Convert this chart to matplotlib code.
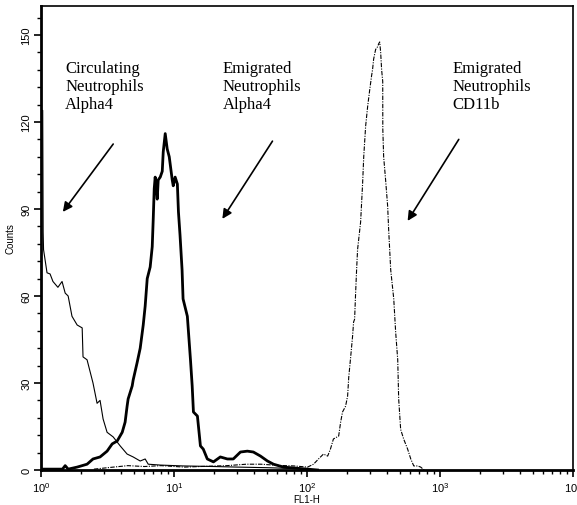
import matplotlib
matplotlib.use("Agg")
import matplotlib.pyplot as plt
from matplotlib.ticker import MultipleLocator, LogLocator, NullFormatter

# FL1-H channel values and counts
circ_x = [1.025, 1.03, 1.038, 1.045, 1.11, 1.17, 1.23, 1.34, 1.44, 1.52, 1.60, 1.71, 1.87,
          2.04, 2.07, 2.22, 2.46, 2.64, 2.78, 2.93, 3.14, 3.49, 3.94, 4.44, 4.93, 5.57,
          6.07, 6.40, 7.88, 11.7, 20.0, 30.0, 50.0, 80.0, 100.0]
circ_y = [124, 124, 82, 76, 68, 67.6, 65, 63, 65, 61, 60, 53, 50,
          49, 39, 38, 30, 23, 24, 17.6, 13, 11.4, 8.3, 5.5, 4.5, 3.1,
          3.8, 2.0, 1.7, 1.4, 1.2, 1.0, 0.8, 0.5, 0.3]

emig_a4_x = [1.0, 1.45, 1.52, 1.6, 1.87, 2.22, 2.46, 2.78, 3.14, 3.43, 3.74, 4.08, 4.29,
             4.44, 4.52, 4.85, 4.93, 5.28, 5.57, 5.87, 6.07, 6.29, 6.62, 6.86, 6.98,
             7.10, 7.22, 7.48, 7.61, 7.88, 8.16, 8.30, 8.59, 8.89, 9.21, 9.70, 9.87,
             10.2, 10.6, 10.8, 11.1, 11.5, 11.7, 12.6, 13.3, 13.7, 14.0, 15.0, 15.8,
             16.6, 17.8, 19.8, 22.3, 25.2, 27.9, 31.6, 35.6, 39.5, 44.7, 50.4, 56.0,
             66.5, 89.3, 120.0]
emig_a4_y = [0.3, 0.3, 1.5, 0.3, 1.0, 2.0, 3.8, 4.5, 6.5, 9.0, 10.0, 13.0, 16.5,
             22.0, 24.5, 29.0, 31.0, 37.0, 42.0, 50.0, 56.5, 66.0, 70.0, 77.0, 86.5,
             97.0, 101.0, 93.4, 100.0, 101.0, 103.0, 109.7, 116.0, 110.7, 108.0, 100.0, 98.0,
             101.0, 98.6, 89.0, 81.0, 69.0, 59.0, 53.0, 38.0, 29.0, 20.0, 18.6, 8.3,
             7.2, 3.8, 2.8, 4.5, 3.8, 3.8, 6.2, 6.5, 6.2, 4.8, 3.1, 2.0,
             1.0, 0.5, 0.0]

emig_cd_x = [2.5, 3.5, 4.5, 6.0, 8.0, 12.0, 18.0, 25.0, 35.0, 45.0, 60.0, 80.0, 100.9,
             112, 122, 133, 143, 150, 158, 173, 179, 185, 195, 202, 206, 213, 220, 224,
             228, 232, 236, 240, 253, 262, 267, 276, 286, 296, 306, 311, 317, 328, 340,
             346, 352, 358, 364, 371, 371.5, 377, 390, 404, 411, 426, 449, 464, 481, 489,
             506, 533, 571, 603, 635, 680, 716, 760]
emig_cd_y = [0.3, 1.0, 1.5, 1.2, 1.5, 1.0, 1.3, 1.5, 2.0, 2.0, 1.6, 1.4, 1.0,
             2.0, 3.8, 5.5, 4.8, 7.2, 10.7, 11.7, 16.5, 20.0, 22.0, 25.5, 32.0, 39.0, 46.0, 51.0,
             52.0, 61.0, 69.0, 76.0, 85.5, 99.0, 108.0, 118.6, 125.5, 131.0, 136.0, 138.0, 141.7, 145.0, 146.0,
             147.0, 147.6, 144.0, 138.0, 134.0, 117.6, 108.0, 100.0, 91.0, 83.0, 69.0, 59.0, 47.6, 38.0, 24.5,
             14.0, 10.7, 7.2, 3.8, 1.4, 1.4, 1.0, 0.0]

labels = ["Circulating\nNeutrophils\nAlpha4",
          "Emigrated\nNeutrophils\nAlpha4",
          "Emigrated\nNeutrophils\nCD11b"]
label_x = [1.52, 23.1, 1247]
arrow_tail = [(3.49, 112.4), (55.0, 113.4), (1384, 114.0)]
arrow_tip = [(1.46, 89.0), (23.1, 86.6), (571, 85.9)]

fig = plt.figure(figsize=(5.77, 5.06), dpi=100)
ax = fig.add_axes([41 / 577, 35 / 506, 532 / 577, 464 / 506])

ax.plot(circ_x, circ_y, color="black", lw=0.8)
ax.plot(emig_a4_x, emig_a4_y, color="black", lw=2.0)
ax.plot(emig_cd_x, emig_cd_y, color="black", lw=0.8, linestyle=(0, (4, 1.2, 1, 1.2)))

ax.set_xscale("log")
ax.set_xlim(1, 1e4)
ax.set_ylim(0, 160)
ax.yaxis.set_major_locator(MultipleLocator(30))
ax.yaxis.set_minor_locator(MultipleLocator(6))
ax.xaxis.set_major_locator(LogLocator(base=10))
ax.xaxis.set_minor_locator(LogLocator(base=10, subs=range(2, 10)))
ax.xaxis.set_minor_formatter(NullFormatter())

tick_font = ["Liberation Sans Narrow", "Liberation Sans"]
ax.tick_params(which="major", direction="out", length=5, width=1.2, labelsize=8, pad=2)
ax.tick_params(which="minor", direction="out", length=3, width=1.0)
ax.tick_params(axis="y", labelrotation=90)
for t in ax.get_yticklabels():
    t.set_verticalalignment("center")
    t.set_family(tick_font)
for t in ax.get_xticklabels():
    t.set_family(tick_font)

ax.spines["left"].set_linewidth(2.0)
ax.spines["bottom"].set_linewidth(2.0)
ax.spines["top"].set_linewidth(1.2)
ax.spines["right"].set_linewidth(1.2)

ax.set_ylabel("Counts", fontsize=7, family=tick_font, labelpad=4)
ax.set_xlabel("FL1-H", fontsize=7, family=tick_font, labelpad=0)

for txt, lx in zip(labels, label_x):
    ax.text(lx, 141.5, txt, fontsize=12, family="Liberation Serif", va="top", ha="left",
            linespacing=1.2)
for tail, tip in zip(arrow_tail, arrow_tip):
    ax.annotate("", xy=tip, xytext=tail,
                arrowprops=dict(arrowstyle="-|>", color="black", lw=1.2,
                                mutation_scale=14, shrinkA=0, shrinkB=0))

fig.savefig("out.png", dpi=100)
